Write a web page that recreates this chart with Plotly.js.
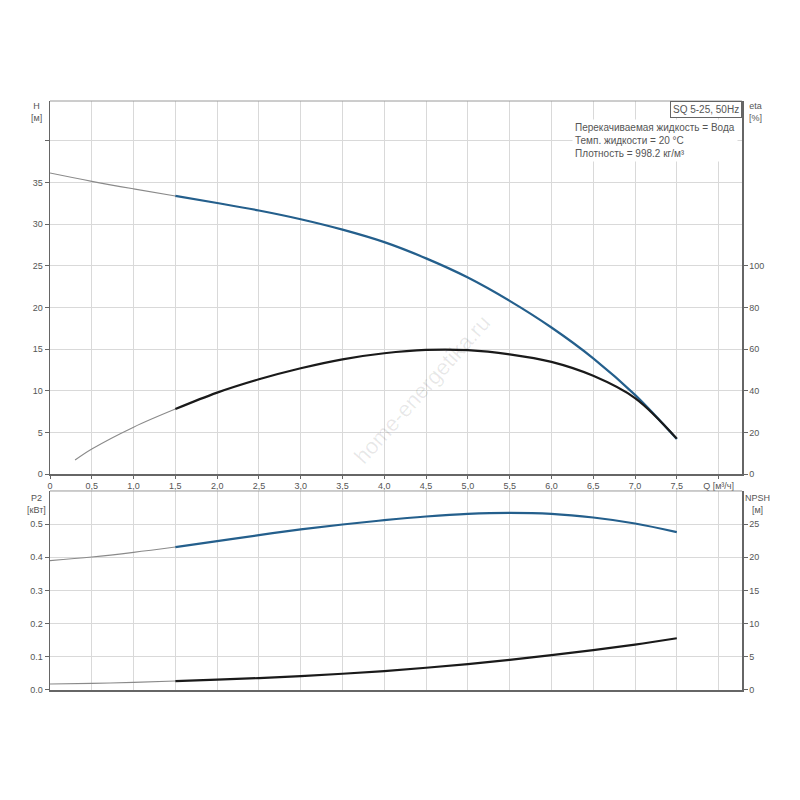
<!DOCTYPE html>
<html>
<head>
<meta charset="utf-8">
<script src="https://cdn.plot.ly/plotly-3.0.1.min.js"></script>
<style>html,body{margin:0;padding:0;background:#fff;}#chart{width:800px;height:800px;}</style>
</head>
<body>
<div id="chart"></div>
<script>
// ---- data ----
const Q = [0, 0.5, 1.0, 1.5, 2.0, 2.5, 3.0, 3.5, 4.0, 4.5, 5.0, 5.5, 6.0, 6.5, 7.0, 7.5];
const H = [36.15, 35.15, 34.25, 33.4, 32.55, 31.65, 30.6, 29.35, 27.85, 25.9, 23.6, 20.8, 17.6, 13.9, 9.5, 4.2];
const Q_eta = [0.3, 0.5, 1.0, 1.5, 2.0, 2.5, 3.0, 3.5, 4.0, 4.5, 5.0, 5.5, 6.0, 6.5, 7.0, 7.5];
const ETA = [6.7, 12.0, 22.5, 31.2, 39.1, 45.5, 50.8, 55.1, 58.0, 59.6, 59.5, 57.5, 53.9, 47.2, 36.5, 17.0];
const P2 = [0.39, 0.401, 0.415, 0.431, 0.449, 0.467, 0.484, 0.499, 0.512, 0.523, 0.531, 0.534, 0.531, 0.52, 0.502, 0.476];
const NPSH = [0.9, 1.0, 1.15, 1.35, 1.55, 1.8, 2.1, 2.45, 2.85, 3.35, 3.9, 4.55, 5.25, 6.0, 6.85, 7.8];
const splitQ = 1.5; // thin part below this flow, bold part above

const xTickVals = [0, 0.5, 1.0, 1.5, 2.0, 2.5, 3.0, 3.5, 4.0, 4.5, 5.0, 5.5, 6.0, 6.5, 7.0, 7.5, 8.0];
const xTickText = ['0', '0,5', '1,0', '1,5', '2,0', '2,5', '3,0', '3,5', '4,0', '4,5', '5,0', '5,5', '6,0', '6,5', '7,0', '7,5', 'Q [м³/ч]'];
const hTickVals = [0, 5, 10, 15, 20, 25, 30, 35, 40];
const hTickText = ['0', '5', '10', '15', '20', '25', '30', '35', ''];
const etaTickVals = [0, 20, 40, 60, 80, 100];
const p2TickVals = [0, 0.1, 0.2, 0.3, 0.4, 0.5];
const p2TickText = ['0.0', '0.1', '0.2', '0.3', '0.4', '0.5'];
const npshTickVals = [0, 5, 10, 15, 20, 25];

// ---- helpers ----
function part(xs, ys, thin) {
  const ox = [], oy = [];
  for (let i = 0; i < xs.length; i++) {
    if (thin ? xs[i] <= splitQ : xs[i] >= splitQ) { ox.push(xs[i]); oy.push(ys[i]); }
  }
  return {x: ox, y: oy};
}
const THIN = {color: '#8a8a8a', width: 1.1, shape: 'spline', smoothing: 1.0};
const BLUE = {color: '#245f8c', width: 2.2, shape: 'spline', smoothing: 1.0};
const BLACK = {color: '#1a1a1a', width: 2.2, shape: 'spline', smoothing: 1.0};

function tr(d, xa, ya, line) {
  return {x: d.x, y: d.y, xaxis: xa, yaxis: ya, mode: 'lines', line: line, hoverinfo: 'skip', showlegend: false};
}

const traces = [
  tr(part(Q, H, true), 'x', 'y', THIN),
  tr(part(Q_eta, ETA, true), 'x', 'y2', THIN),
  tr(part(Q_eta, ETA, false), 'x', 'y2', BLACK),
  tr(part(Q, H, false), 'x', 'y', BLUE),
  tr(part(Q, P2, true), 'x2', 'y3', THIN),
  tr(part(Q, P2, false), 'x2', 'y3', BLUE),
  tr(part(Q, NPSH, true), 'x2', 'y4', THIN),
  tr(part(Q, NPSH, false), 'x2', 'y4', BLACK)
];

const FONT = {family: 'Liberation Sans, Arial, sans-serif', size: 9, color: '#555'};
const NOTE = {family: 'Liberation Sans, Arial, sans-serif', size: 10, color: '#555'};
const GRID = '#d9d9d9';
const AX = '#666';
const xRange = [0, 8.28];
const topDom = [0.3667, 1];
const botDom = [0, 0.3379];

function xAxis(anchor, labels) {
  return {
    domain: [0, 1], range: xRange, anchor: anchor,
    tickmode: 'array', tickvals: xTickVals, ticktext: xTickText,
    showticklabels: labels, ticks: labels ? 'outside' : '', ticklen: 3, tickcolor: AX,
    showgrid: true, gridcolor: GRID, gridwidth: 1,
    showline: true, linecolor: AX, linewidth: 1.5, mirror: false,
    zeroline: false, tickfont: FONT, fixedrange: true
  };
}

const layout = {
  width: 800, height: 800,
  margin: {l: 50, r: 58, t: 101, b: 110, pad: 0},
  paper_bgcolor: '#fff', plot_bgcolor: '#fff',
  font: FONT,
  showlegend: false,
  xaxis: xAxis('y', true),
  xaxis2: xAxis('y3', false),
  yaxis: {
    domain: topDom, range: [0, 44.8], anchor: 'x',
    tickmode: 'array', tickvals: hTickVals, ticktext: hTickText,
    ticks: 'outside', ticklen: 4, tickcolor: AX,
    showgrid: true, gridcolor: GRID, showline: true, linecolor: AX, linewidth: 1.5,
    zeroline: false, tickfont: FONT, fixedrange: true
  },
  yaxis2: {
    domain: topDom, range: [0, 179.2], anchor: 'x', overlaying: 'y', side: 'right',
    tickmode: 'array', tickvals: etaTickVals,
    ticks: 'outside', ticklen: 4, tickcolor: AX,
    showgrid: false, showline: true, linecolor: AX, linewidth: 1.5,
    zeroline: false, tickfont: FONT, fixedrange: true
  },
  yaxis3: {
    domain: botDom, range: [0, 0.6], anchor: 'x2',
    tickmode: 'array', tickvals: p2TickVals, ticktext: p2TickText,
    ticks: 'outside', ticklen: 4, tickcolor: AX,
    showgrid: true, gridcolor: GRID, showline: true, linecolor: AX, linewidth: 1.5,
    zeroline: false, tickfont: FONT, fixedrange: true
  },
  yaxis4: {
    domain: botDom, range: [0, 30], anchor: 'x2', overlaying: 'y3', side: 'right',
    tickmode: 'array', tickvals: npshTickVals,
    ticks: 'outside', ticklen: 4, tickcolor: AX,
    showgrid: false, showline: true, linecolor: AX, linewidth: 1.5,
    zeroline: false, tickfont: FONT, fixedrange: true
  },
  shapes: [
    {type: 'line', xref: 'paper', yref: 'paper', x0: 0, x1: 1, y0: 1, y1: 1, line: {color: '#9a9a9a', width: 1}},
    {type: 'line', xref: 'paper', yref: 'paper', x0: 0, x1: 1, y0: botDom[1], y1: botDom[1], line: {color: '#9a9a9a', width: 1}}
  ],
  annotations: [
    {xref: 'paper', yref: 'paper', x: -0.019, y: 1.004, xanchor: 'center', yanchor: 'top', showarrow: false,
     text: 'H<br>[м]', font: FONT, align: 'center'},
    {xref: 'paper', yref: 'paper', x: 1.02, y: 1.004, xanchor: 'center', yanchor: 'top', showarrow: false,
     text: 'eta<br>[%]', font: FONT, align: 'center'},
    {xref: 'paper', yref: 'paper', x: -0.02, y: 0.338, xanchor: 'center', yanchor: 'top', showarrow: false,
     text: 'P2<br>[кВт]', font: FONT, align: 'center'},
    {xref: 'paper', yref: 'paper', x: 1.022, y: 0.338, xanchor: 'center', yanchor: 'top', showarrow: false,
     text: 'NPSH<br>[м]', font: FONT, align: 'center'},
    {xref: 'paper', yref: 'paper', x: 1, y: 1, xanchor: 'right', yanchor: 'top', showarrow: false,
     text: 'SQ 5-25, 50Hz', font: NOTE, bgcolor: '#fff', bordercolor: '#666', borderwidth: 1, borderpad: 2},
    {xref: 'paper', yref: 'paper', x: 0.755, y: 0.97, xanchor: 'left', yanchor: 'top', showarrow: false,
     text: 'Перекачиваемая жидкость = Вода<br>Темп. жидкости = 20 °C<br>Плотность = 998.2 кг/м³',
     font: NOTE, align: 'left', bgcolor: '#fff', borderpad: 2},
    {xref: 'paper', yref: 'paper', x: 0.538, y: 0.51, xanchor: 'center', yanchor: 'middle', showarrow: false,
     text: 'home-energetika.ru', textangle: -48,
     font: {family: 'Liberation Sans, Arial, sans-serif', size: 22, color: 'rgba(0,0,0,0.09)'}}
  ]
};

Plotly.newPlot('chart', traces, layout, {staticPlot: true, displayModeBar: false});
</script>
</body>
</html>
